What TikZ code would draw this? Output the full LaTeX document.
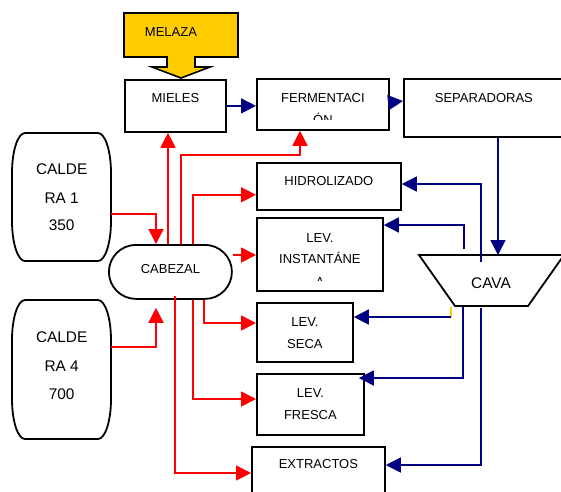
\documentclass[tikz,border=0pt]{standalone}
\usepackage{fontspec}
\setmainfont{Liberation Sans}
\usetikzlibrary{calc, arrows.meta}

\definecolor{navy}{HTML}{000080}
\definecolor{melaza}{HTML}{FFCC00}

\tikzset{
	box/.style = {draw, line width = 1.8pt, rectangle, inner sep = 0pt, anchor = north west},
	hidden/.style = {rectangle, inner sep = 0pt, anchor = north west},
	txt/.style = {font = \fontsize{13}{15}\selectfont, anchor = base, inner sep = 0pt},
	bigtxt/.style = {font = \fontsize{15.4}{18}\selectfont, anchor = base, inner sep = 0pt},
	redarrow/.style = {draw = red, line width = 1.6pt, -{Triangle[length = 15pt, width = 15pt]}},
	bluearrow/.style = {draw = navy, line width = 1.6pt, -{Triangle[length = 15pt, width = 15pt]}},
}

\begin{document}
\begin{tikzpicture}[x = 1pt, y = -1pt]
		\useasboundingbox (0,0) rectangle (561,491);

		\coordinate (MEL) at (124,13);
		\coordinate (CV) at (419,255);

		\draw [fill = melaza, line width = 1.6pt] (MEL) -- ++(114,0) -- ++(0,44) -- ++(-43,0) -- ++(0,10) -- ++(15,0) -- ++(-29,11) -- ++(-29,-11) -- ++(15,0) -- ++(0,-10) -- ++(-43,0) -- cycle;
		\node [txt] at ($ (MEL) + (47,23) $) {MELAZA};

		\node [box, minimum width = 101, minimum height = 52] (MIELES) at (124,79) {};
		\node [box, minimum width = 132, minimum height = 51] (FERM) at (256,78) {};
		\node [box, minimum width = 160, minimum height = 58] (SEP) at (403,78) {};
		\node [box, minimum width = 144, minimum height = 47] (HID) at (256,162) {};
		\node [box, minimum width = 126, minimum height = 73] (INST) at (256,217) {};
		\node [box, minimum width = 96, minimum height = 59] (SECA) at (256,302) {};
		\node [box, minimum width = 107, minimum height = 61] (FRESCA) at (256,373) {};
		\node [box, minimum width = 133, minimum height = 60] (EXTR) at (251,446) {};
		\node [box, rounded corners = 27pt, minimum width = 123, minimum height = 54] (CAB) at (108,244) {};

		\node [hidden, minimum width = 99, minimum height = 128] (CAL1) at (12,133) {};
		\node [hidden, minimum width = 99, minimum height = 139] (CAL4) at (12,300) {};

		\begin{scope}[shift = {(CAL1.north west)}]
			\draw [line width = 1.8pt] (13,0) -- (86,0) arc [start angle = -90, end angle = 0, x radius = 13, y radius = 40] -- (99,88) arc [start angle = 0, end angle = 90, x radius = 13, y radius = 40] -- (13,128) arc [start angle = 90, end angle = 180, x radius = 13, y radius = 40] -- (0,40) arc [start angle = 180, end angle = 270, x radius = 13, y radius = 40] -- cycle;
		\end{scope}

		\begin{scope}[shift = {(CAL4.north west)}]
			\draw [line width = 1.8pt] (13,0) -- (86,0) arc [start angle = -90, end angle = 0, x radius = 13, y radius = 40] -- (99,99) arc [start angle = 0, end angle = 90, x radius = 13, y radius = 40] -- (13,139) arc [start angle = 90, end angle = 180, x radius = 13, y radius = 40] -- (0,40) arc [start angle = 180, end angle = 270, x radius = 13, y radius = 40] -- cycle;
		\end{scope}

		\draw [line width = 1.8pt] (CV) -- ++(145,0) -- ++(-36,51) -- ++(-73,0) -- cycle;

		\node [bigtxt] at ($ (CAL1.north) + (0,41) $) {CALDE};
		\node [bigtxt] at ($ (CAL1.north) + (0,70) $) {RA 1};
		\node [bigtxt] at ($ (CAL1.north) + (0,97) $) {350};
		\node [bigtxt] at ($ (CAL4.north) + (0,42) $) {CALDE};
		\node [bigtxt] at ($ (CAL4.north) + (0,71) $) {RA 4};
		\node [bigtxt] at ($ (CAL4.north) + (0,99) $) {700};
		\node [bigtxt] at ($ (CV) + (72,33) $) {CAVA};

		\node [txt] at ($ (MIELES.north) + (0,23) $) {MIELES};
		\node [txt] at ($ (SEP.north) + (0,24) $) {SEPARADORAS};
		\node [txt] at ($ (HID.north) + (0,23) $) {HIDROLIZADO};
		\node [txt] at ($ (CAB) + (0,2) $) {CABEZAL};
		\node [txt] at ($ (SECA.north) + (0,24) $) {LEV.};
		\node [txt] at ($ (SECA.north) + (0,46) $) {SECA};
		\node [txt] at ($ (FRESCA.north) + (0,24) $) {LEV.};
		\node [txt] at ($ (FRESCA.north) + (0,46) $) {FRESCA};
		\node [txt] at ($ (EXTR.north) + (0,22) $) {EXTRACTOS};

		\begin{scope}
			\clip (FERM.north west) rectangle ($ (FERM.south east) + (0,-11) $);
			\node [txt] at ($ (FERM.north) + (0,24) $) {FERMENTACI};
			\node [txt] at ($ (FERM.north) + (0,46) $) {ÓN};
		\end{scope}

		\begin{scope}
			\clip (INST.north west) rectangle ($ (INST.south east) + (0,-11) $);
			\node [txt] at ($ (INST.north) + (0,25) $) {LEV.};
			\node [txt] at ($ (INST.north) + (0,46) $) {INSTANTÁNE};
			\node [txt] at ($ (INST.north) + (0,69) $) {A};
		\end{scope}

		\draw [redarrow] ($ (CAL1.north east) + (0,81) $) -| ($ (CAB.north west) + (48,0) $);
		\draw [redarrow] ($ (CAL4.north east) + (0,47) $) -| ($ (CAB.south west) + (48,8) $);
		\draw [redarrow] ($ (CAB.north west) + (60,0) $) -- ($ (MIELES.south west) + (44,0) $);
		\draw [redarrow] ($ (CAB.north west) + (73,0) $) |- ($ (FERM.south west) + (44,24) $) -- ($ (FERM.south west) + (44,0) $);
		\draw [redarrow] ($ (CAB.north west) + (85,0) $) |- ($ (HID.south west) + (0,-16) $);
		\draw [redarrow] ($ (CAB.north east) + (0,11) $) -- ($ (INST.north west) + (0,38) $);
		\draw [redarrow] ($ (CAB.south west) + (96,0) $) |- ($ (SECA.north west) + (0,21) $);
		\draw [redarrow] ($ (CAB.south west) + (85,0) $) |- ($ (FRESCA.north west) + (0,26) $);
		\draw [redarrow] ($ (CAB.south west) + (67,-4) $) |- ($ (EXTR.north west) + (0,27) $);

		\draw [bluearrow] (MIELES.east) -- (MIELES.east -| FERM.west);
		\draw [bluearrow] ($ (FERM.east) + (0,-2) $) -- ($ (SEP.north west) + (0,23) $);
		\draw [bluearrow] ($ (SEP.south west) + (95,0) $) -- ($ (CV) + (79,0) $);
		\draw [bluearrow] ($ (CV) + (62,7) $) |- ($ (HID.north east) + (0,22) $);
		\draw [bluearrow] ($ (CV) + (45,-6) $) |- ($ (INST.north east) + (0,8) $);
		\draw [line width = 1.6pt, draw = melaza] ($ (CV) + (32,52) $) -- ($ (CV) + (32,62) $);
		\draw [bluearrow] ($ (CV) + (32,62) $) -- ($ (SECA.north east) + (0,15) $);
		\draw [bluearrow] ($ (CV) + (44,52) $) |- ($ (FRESCA.north east) + (-6,5) $);
		\draw [bluearrow] ($ (CV) + (62,53) $) |- ($ (EXTR.north east) + (0,19) $);
	\end{tikzpicture}
\end{document}
